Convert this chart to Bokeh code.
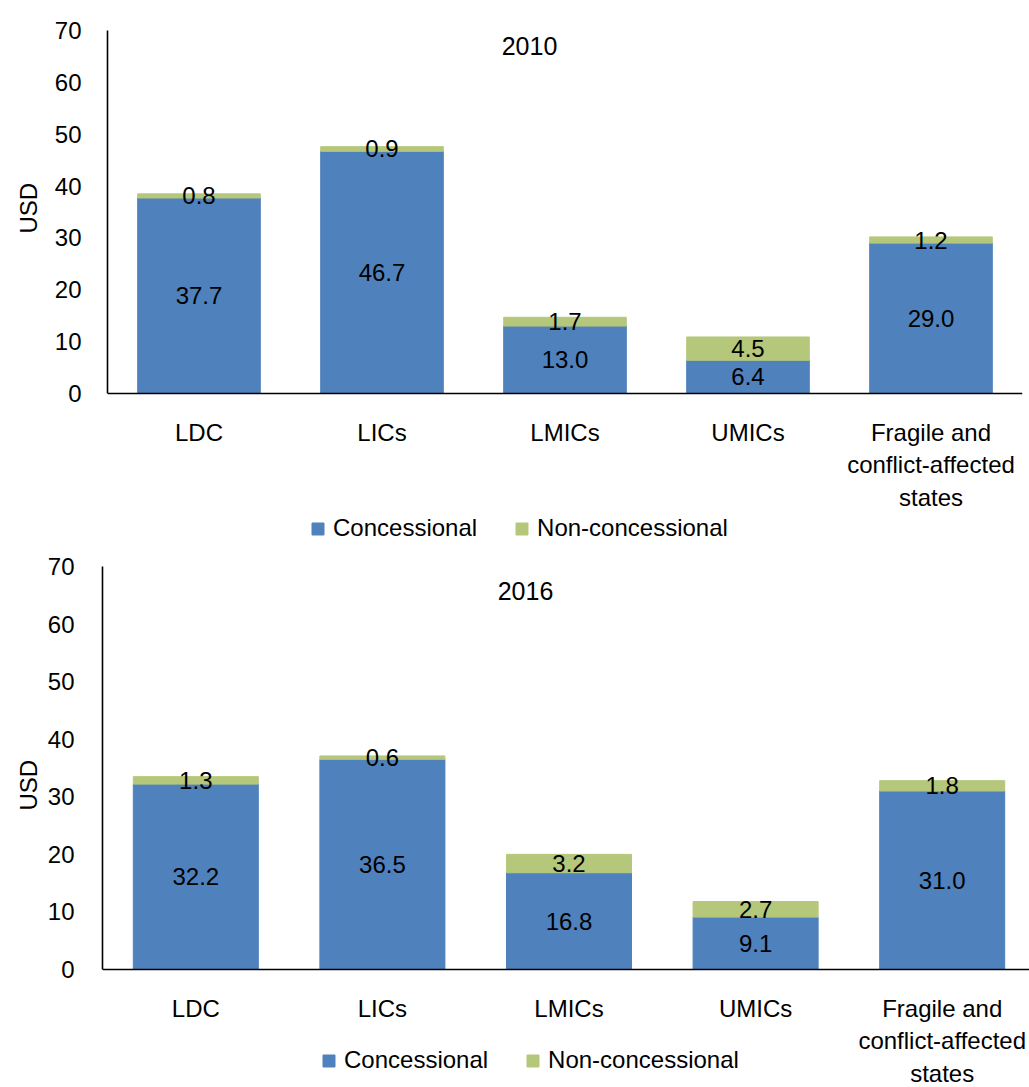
from bokeh.plotting import figure
from bokeh.models import (Range1d, FactorRange, Label, Legend, LegendItem,
                          ColumnDataSource, FixedTicker, Span, Title)
from bokeh.embed import file_html
from bokeh.resources import INLINE
from bokeh.core.properties import value

categories = ["LDC", "LICs", "LMICs", "UMICs", "Fragile and\nconflict-affected\nstates"]
concessional_2010 = [37.7, 46.7, 13.0, 6.4, 29.0]
non_concessional_2010 = [0.8, 0.9, 1.7, 4.5, 1.2]
concessional_2016 = [32.2, 36.5, 16.8, 9.1, 31.0]
non_concessional_2016 = [1.3, 0.6, 3.2, 2.7, 1.8]
y_ticks = [0, 10, 20, 30, 40, 50, 60, 70]
y_max = 70
series_names = ["Concessional", "Non-concessional"]
years = ["2010", "2016"]
y_label = "USD"

BLUE = "#4F81BD"
GREEN = "#B5C77B"
FONT = "Liberation Sans"
FS = "24px"


def make_fig(year, conc, nonc, width, height, b_left, b_top, frame_w, axis_px,
             tick_standoff, usd_offset, usd_standoff, title_xy, legend_xy):
    frame_h = height - b_top
    ppu = axis_px / y_max                      # pixels per data unit
    y_start = y_max - frame_h / ppu            # frame extends below 0 for labels/legend
    src = ColumnDataSource(dict(
        cat=categories,
        conc=conc,
        nonc=nonc,
        y_c=[c / 2 for c in conc],
        y_n=[c + n / 2 for c, n in zip(conc, nonc)],
        t_c=["%.1f" % c for c in conc],
        t_n=["%.1f" % n for n in nonc],
        y_lab=[-25 / ppu] * len(categories),
    ))
    p = figure(width=width, height=height, x_range=FactorRange(factors=categories),
               y_range=Range1d(y_start, y_max), x_axis_location=None,
               output_backend="svg", toolbar_location=None,
               min_border_left=b_left, min_border_right=width - b_left - frame_w,
               min_border_top=b_top, min_border_bottom=0)
    p.outline_line_color = None
    p.xgrid.grid_line_color = None
    p.ygrid.grid_line_color = None
    p.background_fill_color = "white"

    rs = p.vbar_stack(["conc", "nonc"], x="cat", width=0.67, color=[BLUE, GREEN],
                      source=src)
    for ycol, tcol in (("y_c", "t_c"), ("y_n", "t_n")):
        p.text(x="cat", y=ycol, text=tcol, source=src, text_align="center",
               text_baseline="middle", text_font=value(FONT), text_font_size=FS,
               text_color="black")
    # category labels (x axis)
    p.text(x="cat", y="y_lab", text="cat", source=src, text_align="center",
           text_baseline="top", text_font=value(FONT), text_font_size=FS,
           text_color="black", text_line_height=1.21)
    # x axis line at zero
    p.add_layout(Span(location=0, dimension="width", line_color="black",
                      line_width=1.6))

    ax = p.yaxis[0]
    ax.bounds = (0, y_max)
    ax.axis_line_color = "black"
    ax.axis_line_width = 1.6
    ax.major_tick_line_color = None
    ax.minor_tick_line_color = None
    ax.major_tick_out = 0
    ax.major_tick_in = 0
    ax.minor_tick_out = 0
    ax.minor_tick_in = 0
    ax.major_label_text_font = FONT
    ax.major_label_text_font_size = FS
    ax.major_label_text_color = "black"
    ax.ticker = FixedTicker(ticks=y_ticks)
    ax.major_label_standoff = tick_standoff

    p.add_layout(Title(text=y_label, align="left", offset=usd_offset,
                       standoff=usd_standoff, text_font=FONT, text_font_size=FS,
                       text_font_style="normal", text_color="black"), "left")

    p.add_layout(Label(x=title_xy[0], y=title_xy[1], x_units="screen", y_units="screen",
                       text=year, text_align="center", text_baseline="middle",
                       text_font=FONT, text_font_size="25px", text_color="black"))

    legend = Legend(items=[LegendItem(label=series_names[0], renderers=[rs[0]]),
                           LegendItem(label=series_names[1], renderers=[rs[1]])],
                    location=legend_xy, orientation="horizontal",
                    glyph_width=15, glyph_height=15, label_standoff=8, spacing=37,
                    padding=0, margin=0, border_line_color=None,
                    background_fill_alpha=0, label_text_font=FONT,
                    label_text_font_size=FS, label_text_color="black")
    p.add_layout(legend)
    return p


p1 = make_fig(years[0], concessional_2010, non_concessional_2010, 1029, 548,
              107, 30, 915, 363, 26, 315, 19, (422, 503), (203, 6))
p2 = make_fig(years[1], concessional_2016, non_concessional_2016, 1036, 539,
              102, 18, 933, 403, 28, 277, 6, (423, 497), (219, 13))

open("out.html", "w").write(file_html([p1, p2], INLINE))
